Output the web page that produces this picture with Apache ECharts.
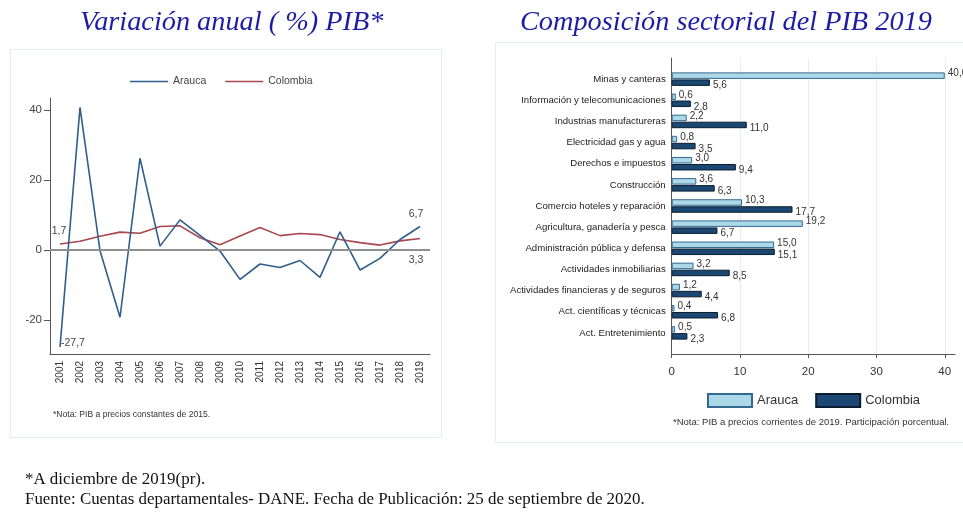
<!DOCTYPE html>
<html><head><meta charset="utf-8">
<script src="https://cdn.jsdelivr.net/npm/echarts@6/dist/echarts.min.js"></script>
<style>html,body{margin:0;padding:0;background:#fff}#c{width:963px;height:513px}</style>
</head><body><div id="c"></div>
<script>
// ---- Data: left chart (annual GDP variation, %) ----
const years = ['2001','2002','2003','2004','2005','2006','2007','2008','2009','2010','2011','2012','2013','2014','2015','2016','2017','2018','2019'];
const araucaGrowth = [-27.7, 40.7, -0.2, -19.2, 26.2, 1.1, 8.6, 4.2, -0.3, -8.4, -4.0, -5.0, -3.0, -7.8, 5.2, -5.7, -2.4, 3.0, 6.7];
const colombiaGrowth = [1.7, 2.5, 3.9, 5.1, 4.8, 6.7, 6.9, 3.5, 1.5, 4.0, 6.4, 4.1, 4.7, 4.4, 3.0, 2.1, 1.4, 2.6, 3.3];
const growthTicks = [-20, 0, 20, 40];

// ---- Data: right chart (sector composition 2019, %) ----
const sectors = ['Minas y canteras','Información y telecomunicaciones','Industrias manufactureras','Electricidad gas y agua','Derechos e impuestos','Construcción','Comercio hoteles y reparación','Agricultura, ganadería y pesca','Administración pública y defensa','Actividades inmobiliarias','Actividades financieras y de seguros','Act. científicas y técnicas','Act. Entretenimiento'];
const araucaShare = [40.0, 0.6, 2.2, 0.8, 3.0, 3.6, 10.3, 19.2, 15.0, 3.2, 1.2, 0.4, 0.5];
const colombiaShare = [5.6, 2.8, 11.0, 3.5, 9.4, 6.3, 17.7, 6.7, 15.1, 8.5, 4.4, 6.8, 2.3];
const shareTicks = [0, 10, 20, 30, 40];

const comma = v => String(v.toFixed(1)).replace('.', ',');

// padded category list for the sector axis (empty slots at both ends)
const sectorCats = [''].concat(sectors, ['']);
const pad = arr => [null].concat(arr, [null]);

function labeled(arr, idxPos) {
  return arr.map((v, i) => idxPos[i] ? { value: v, label: Object.assign({ show: true }, idxPos[i]) } : v);
}

const araucaColor = '#2f5e8c';
const colombiaColor = '#a8474c';
const lineIcon = 'path://M0,5L38,5L38,6.6L0,6.6Z';

const chart = echarts.init(document.getElementById('c'), null, { renderer: 'canvas' });
const option = {
  animation: false,
  backgroundColor: '#fff',
  textStyle: { fontFamily: 'Liberation Sans, Arial, sans-serif' },
  graphic: [
    { type: 'rect', shape: { x: 10.5, y: 49.5, width: 431, height: 388 }, style: { fill: 'none', stroke: '#e2ecef', lineWidth: 1 }, silent: true },
    { type: 'rect', shape: { x: 495.5, y: 42.5, width: 480, height: 400 }, style: { fill: 'none', stroke: '#e2ecef', lineWidth: 1 }, silent: true },
    { type: 'text', left: 80, top: 9, style: { text: 'Variación anual ( %) PIB*', font: 'italic 28.3px "Liberation Serif", "Times New Roman", serif', fill: '#1c1ca6' } },
    { type: 'text', left: 520, top: 9, style: { text: 'Composición sectorial del PIB 2019', font: 'italic 28.3px "Liberation Serif", "Times New Roman", serif', fill: '#1c1ca6' } },
    { type: 'text', left: 53, top: 410, style: { text: '*Nota: PIB a precios constantes de 2015.', font: '8.6px "Liberation Sans", Arial, sans-serif', fill: '#333' } },
    { type: 'text', left: 673, top: 417, style: { text: '*Nota: PIB a precios corrientes de 2019. Participación porcentual.', font: '9.5px "Liberation Sans", Arial, sans-serif', fill: '#333' } },
    { type: 'text', left: 25, top: 471, style: { text: '*A diciembre de 2019(pr).', font: '16.9px "Liberation Serif", "Times New Roman", serif', fill: '#111' } },
    { type: 'text', left: 25, top: 491, style: { text: 'Fuente: Cuentas departamentales- DANE. Fecha de Publicación: 25 de septiembre de 2020.', font: '16.9px "Liberation Serif", "Times New Roman", serif', fill: '#111' } }
  ],
  legend: [
    {
      left: 130, top: 76, padding: 0, itemWidth: 38, itemHeight: 12, itemGap: 19,
      textStyle: { fontSize: 10.5, color: '#444' },
      data: [{ name: 'Arauca', icon: lineIcon }, { name: 'Colombia', icon: lineIcon }]
    },
    {
      left: 707, top: 393, padding: 0, itemWidth: 44, itemHeight: 13, itemGap: 17,
      textStyle: { fontSize: 13, color: '#333' },
      data: [{ name: 'Arauca ', icon: 'rect' }, { name: 'Colombia ', icon: 'rect' }],
      formatter: n => n.trim()
    }
  ],
  grid: [
    { left: 50, right: 963 - 430, top: 98, bottom: 513 - 354, containLabel: false },
    { left: 671.7, right: 8, top: 58, bottom: 513 - 354, containLabel: false }
  ],
  xAxis: [
    {
      type: 'category', gridIndex: 0, data: years, boundaryGap: true,
      axisLine: { onZero: false, lineStyle: { color: '#555', width: 1 } },
      axisTick: { alignWithLabel: true, length: 4, lineStyle: { color: '#555' } },
      axisLabel: { rotate: 90, fontSize: 10, color: '#333', margin: 7, interval: 0 },
      splitLine: { show: false }
    },
    {
      type: 'value', gridIndex: 1, min: 0, max: 41.5,
      axisLine: { show: true, lineStyle: { color: '#555', width: 1 } },
      axisTick: { show: true, length: 4, customValues: shareTicks, lineStyle: { color: '#555' } },
      axisLabel: { fontSize: 11.5, color: '#333', margin: 12, customValues: shareTicks },
      splitLine: { show: true, lineStyle: { color: '#e6eff3', width: 1 } }
    }
  ],
  yAxis: [
    {
      type: 'value', gridIndex: 0, min: -29.7, max: 43.4,
      axisLine: { show: true, lineStyle: { color: '#555', width: 1 } },
      axisTick: { show: true, length: 6, customValues: growthTicks, lineStyle: { color: '#555' } },
      axisLabel: { fontSize: 11.5, color: '#444', margin: 8, customValues: growthTicks },
      splitLine: { show: false }
    },
    {
      type: 'category', gridIndex: 1, data: sectorCats, inverse: true, boundaryGap: false,
      axisLine: { show: true, onZero: false, lineStyle: { color: '#555', width: 1 } },
      axisTick: { show: false },
      axisLabel: { fontSize: 9.6, color: '#222', margin: 6, interval: 0 },
      splitLine: { show: false }
    }
  ],
  series: [
    {
      name: 'Arauca', type: 'line', xAxisIndex: 0, yAxisIndex: 0, symbol: 'circle', symbolSize: 0.01, showSymbol: true,
      lineStyle: { color: araucaColor, width: 1.6 }, itemStyle: { color: araucaColor },
      label: { fontSize: 10.5, color: '#444', formatter: p => comma(p.value) },
      data: labeled(araucaGrowth, { 0: { position: 'right', distance: 1, offset: [0, -4] }, 18: { position: 'top', distance: 7, offset: [-4, 0] } }),
      markLine: {
        silent: true, symbol: 'none', label: { show: false },
        lineStyle: { color: '#8f8f8f', width: 2, type: 'solid' },
        data: [{ yAxis: 0 }]
      },
      z: 3
    },
    {
      name: 'Colombia', type: 'line', xAxisIndex: 0, yAxisIndex: 0, symbol: 'circle', symbolSize: 0.01, showSymbol: true,
      lineStyle: { color: colombiaColor, width: 1.6 }, itemStyle: { color: colombiaColor },
      label: { fontSize: 10.5, color: '#444', formatter: p => comma(p.value) },
      data: labeled(colombiaGrowth, { 0: { position: 'top', distance: 7, offset: [-1, 0] }, 18: { position: 'bottom', distance: 16, offset: [-4, 0] } }),
      z: 2
    },
    {
      name: 'Arauca ', type: 'bar', xAxisIndex: 1, yAxisIndex: 1,
      data: pad(araucaShare), barWidth: 6.5, barGap: '8%',
      itemStyle: { color: '#acd9e8', borderColor: '#356890', borderWidth: 1 },
      label: { show: true, position: 'right', distance: 3, offset: [0, -2], fontSize: 10, color: '#333', formatter: p => comma(p.value) }
    },
    {
      name: 'Colombia ', type: 'bar', xAxisIndex: 1, yAxisIndex: 1,
      data: pad(colombiaShare), barWidth: 6.5, barGap: '8%',
      itemStyle: { color: '#1a4872', borderColor: '#0a1c30', borderWidth: 1 },
      label: { show: true, position: 'right', distance: 3, offset: [0, 3], fontSize: 10, color: '#333', formatter: p => comma(p.value) }
    }
  ]
};
chart.setOption(option);
</script>
</body></html>
